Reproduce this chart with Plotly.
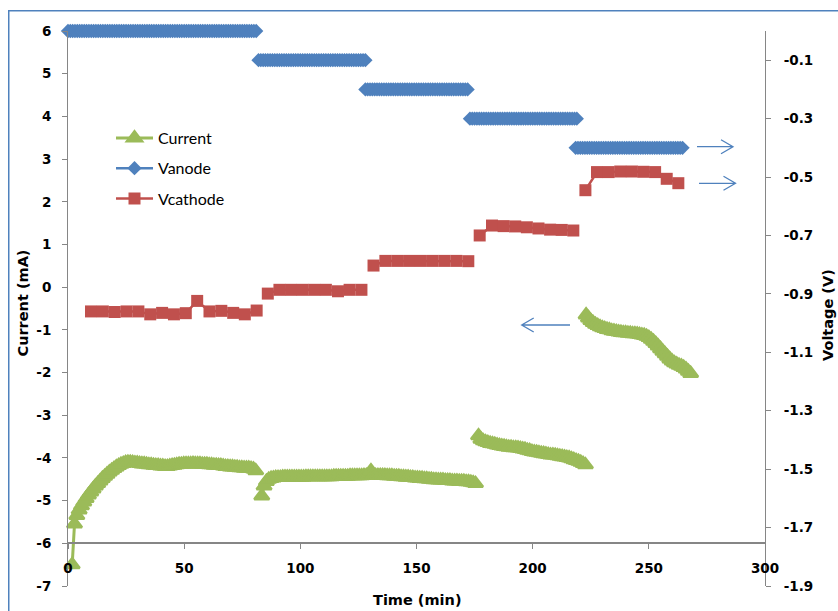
import plotly.graph_objects as go

# ---------------- data ----------------
# Current (mA), logged every 1 min, four segments (start time, values)
CURRENT_STEP = 1.0
CURRENT_SEG_START = [1.8, 83.4, 176.7, 223.0]
CURRENT_SEG1 = [-6.5, -5.55, -5.35, -5.22, -5.12, -5.03, -4.95, -4.87, -4.8, -4.73,
                -4.66, -4.6, -4.54, -4.48, -4.43, -4.38, -4.33, -4.29, -4.25, -4.21,
                -4.18, -4.15, -4.13, -4.11, -4.1, -4.1, -4.11, -4.12, -4.12, -4.13,
                -4.14, -4.14, -4.15, -4.16, -4.16, -4.17, -4.18, -4.18, -4.19, -4.19,
                -4.2, -4.2, -4.19, -4.18, -4.17, -4.16, -4.15, -4.15, -4.14, -4.14,
                -4.14, -4.14, -4.13, -4.14, -4.14, -4.14, -4.15, -4.15, -4.15, -4.16,
                -4.16, -4.17, -4.17, -4.18, -4.18, -4.19, -4.2, -4.2, -4.21, -4.21,
                -4.22, -4.22, -4.23, -4.23, -4.24, -4.24, -4.24, -4.25, -4.26, -4.3]
CURRENT_SEG2 = [-4.89, -4.66, -4.55, -4.5, -4.48, -4.47, -4.46,
                -4.46, -4.46, -4.45, -4.45, -4.45, -4.45, -4.45, -4.45, -4.45, -4.45,
                -4.45, -4.45, -4.44, -4.44, -4.44, -4.44, -4.44, -4.44, -4.44, -4.44,
                -4.44, -4.44, -4.44, -4.44, -4.43, -4.43, -4.43, -4.43, -4.43, -4.43,
                -4.43, -4.42, -4.42, -4.42, -4.42, -4.42, -4.42, -4.41, -4.41, -4.41,
                -4.3,
                -4.41, -4.41, -4.41, -4.41, -4.41, -4.41, -4.42, -4.42, -4.42,
                -4.43, -4.43, -4.43, -4.44, -4.44, -4.45, -4.45, -4.46, -4.46, -4.47,
                -4.47, -4.48, -4.48, -4.49, -4.49, -4.5, -4.5, -4.51, -4.51, -4.52,
                -4.52, -4.52, -4.53, -4.53, -4.53, -4.54, -4.54, -4.54, -4.55, -4.55,
                -4.55, -4.56, -4.56, -4.57, -4.58, -4.6]
CURRENT_SEG3 = [-3.48, -3.56, -3.6, -3.62, -3.64, -3.66, -3.67, -3.68, -3.7, -3.71,
                -3.72, -3.73, -3.74, -3.75, -3.75, -3.76, -3.76, -3.77, -3.78, -3.79,
                -3.8, -3.82, -3.83, -3.85, -3.86, -3.87, -3.88, -3.89, -3.9, -3.91,
                -3.92, -3.93, -3.93, -3.94, -3.95, -3.96, -3.97, -3.98, -3.99, -4.0,
                -4.02, -4.04, -4.06, -4.08, -4.1, -4.13, -4.16]
CURRENT_SEG4 = [-0.65, -0.72, -0.78, -0.83, -0.87, -0.9, -0.93, -0.95, -0.97, -0.99,
                -1.0, -1.02, -1.03, -1.04, -1.05, -1.06, -1.07, -1.07, -1.08, -1.08,
                -1.09, -1.09, -1.1, -1.11, -1.12, -1.13, -1.15, -1.18, -1.22, -1.27,
                -1.32, -1.38, -1.44, -1.5, -1.56, -1.62, -1.68, -1.73, -1.77, -1.8,
                -1.83, -1.85, -1.88, -1.92, -1.97, -2.02]

# Vanode (V): constant level per step, logged every 1 min
VANODE_STEP = 1.0
VANODE_LEVEL = [0.0, -0.1, -0.2, -0.3, -0.4]
VANODE_START = [0.0, 82.0, 128.0, 173.0, 218.5]
VANODE_END = [81.0, 127.5, 172.5, 219.0, 264.0]

# Vcathode (V)
VCATH_T = [
    [9.9, 15.0, 20.1, 25.2, 30.3, 35.4, 40.5, 45.6, 50.7, 55.6, 60.9, 66.0, 71.1, 76.1, 81.2],
    [86.0, 91.0, 96.0, 101.0, 106.0, 111.0, 116.2, 121.2, 126.3],
    [131.5, 136.6, 141.7, 146.8, 151.9, 157.0, 162.1, 167.2, 172.3],
    [177.2, 182.5, 187.5, 192.5, 197.5, 202.5, 207.5, 212.5, 217.5],
    [222.7, 227.7, 232.7, 237.7, 242.7, 247.7, 252.7, 257.7, 262.7],
]
VCATH_V = [
    [-0.96, -0.96, -0.962, -0.96, -0.96, -0.97, -0.965, -0.97, -0.966, -0.924, -0.96, -0.958, -0.965, -0.97, -0.957],
    [-0.899, -0.886, -0.886, -0.886, -0.886, -0.886, -0.891, -0.886, -0.886],
    [-0.803, -0.787, -0.787, -0.787, -0.787, -0.787, -0.787, -0.787, -0.788],
    [-0.7, -0.666, -0.668, -0.669, -0.672, -0.676, -0.68, -0.681, -0.683],
    [-0.545, -0.483, -0.483, -0.481, -0.481, -0.482, -0.483, -0.506, -0.521],
]

X_TICKS = [0, 50, 100, 150, 200, 250, 300]
LEFT_TICKS = [-7, -6, -5, -4, -3, -2, -1, 0, 1, 2, 3, 4, 5, 6]
RIGHT_TICKS = [-1.9, -1.7, -1.5, -1.3, -1.1, -0.9, -0.7, -0.5, -0.3, -0.1]

# ---------------- build series ----------------
def join_segments(ts, vs):
    X, Y = [], []
    for t, v in zip(ts, vs):
        if X:
            X.append(None); Y.append(None)
        X.extend(t); Y.extend(v)
    return X, Y

cur_t, cur_v = [], []
for start, seg in zip(CURRENT_SEG_START, [CURRENT_SEG1, CURRENT_SEG2, CURRENT_SEG3, CURRENT_SEG4]):
    cur_t.append([start + i * CURRENT_STEP for i in range(len(seg))])
    cur_v.append(seg)
CX, CY = join_segments(cur_t, cur_v)

an_t, an_v = [], []
for lvl, s, e in zip(VANODE_LEVEL, VANODE_START, VANODE_END):
    n = int(round((e - s) / VANODE_STEP)) + 1
    an_t.append([s + i * VANODE_STEP for i in range(n)])
    an_v.append([lvl] * n)
AX, AY = join_segments(an_t, an_v)

KX, KY = join_segments(VCATH_T, VCATH_V)

GREEN = "#9BBB59"
BLUE = "#4F81BD"
RED = "#C0504D"
AXIS_GRAY = "#868686"

fig = go.Figure()
fig.add_trace(go.Scatter(
    x=CX, y=CY, name="Current", mode="lines+markers", yaxis="y",
    line=dict(color=GREEN, width=3),
    marker=dict(symbol="triangle-up", size=13, color=GREEN, line=dict(color=GREEN, width=2.5)),
    legendgroup="c", connectgaps=False, cliponaxis=False,
))
fig.add_trace(go.Scatter(
    x=AX, y=AY, name="Vanode", mode="lines+markers", yaxis="y2",
    line=dict(color=BLUE, width=2.5),
    marker=dict(symbol="diamond", size=11, color=BLUE),
    legendgroup="a", connectgaps=False, cliponaxis=False,
))
fig.add_trace(go.Scatter(
    x=KX, y=KY, name="Vcathode", mode="lines+markers", yaxis="y2",
    line=dict(color=RED, width=2.5),
    marker=dict(symbol="square", size=12, color=RED),
    legendgroup="k", connectgaps=False, cliponaxis=False,
))

# ---------------- layout ----------------
W, H = 838, 611
ML, MR, MT, MB = 68, 73, 31, 25
PW, PH = W - ML - MR, H - MT - MB

def px_x(p):
    return (p - ML) / PW

def px_y(p):
    return (H - MB - p) / PH

tick_font = dict(family="DejaVu Sans", size=13.5, color="#000000", weight="bold")
title_font = dict(family="DejaVu Sans", size=14.5, color="#000000", weight="bold")

fig.update_layout(
    width=W, height=H,
    margin=dict(l=ML, r=MR, t=MT, b=MB, autoexpand=False),
    paper_bgcolor="white", plot_bgcolor="white",
    showlegend=True,
    legend=dict(
        x=px_x(111), y=px_y(121), xanchor="left", yanchor="top",
        font=dict(family="Lato", size=16, color="#000000"),
        bgcolor="rgba(0,0,0,0)", borderwidth=0,
        tracegroupgap=6.5, itemwidth=37, traceorder="grouped",
    ),
    xaxis=dict(
        range=[0, 300], tickvals=X_TICKS, ticktext=[str(v) for v in X_TICKS],
        showgrid=False, zeroline=False, showline=True, linecolor=AXIS_GRAY, linewidth=1.5,
        ticks="outside", ticklen=5, tickcolor=AXIS_GRAY, tickwidth=1,
        tickfont=tick_font, anchor="free", position=1 / 13, ticklabelstandoff=8,
    ),
    yaxis=dict(
        range=[-7, 6], tickvals=LEFT_TICKS, ticktext=[str(v) for v in LEFT_TICKS],
        showgrid=False, zeroline=False, showline=True, linecolor=AXIS_GRAY, linewidth=1,
        ticks="outside", ticklen=5, tickcolor=AXIS_GRAY, tickfont=tick_font,
        ticklabelstandoff=8,
    ),
    yaxis2=dict(
        range=[-1.9, 0.0], tickvals=RIGHT_TICKS, ticktext=[f"{v:.1f}" for v in RIGHT_TICKS],
        overlaying="y", side="right", anchor="x",
        showgrid=False, zeroline=False, showline=True, linecolor=AXIS_GRAY, linewidth=1,
        ticks="outside", ticklen=5, tickcolor=AXIS_GRAY, tickfont=tick_font,
        ticklabelstandoff=10,
    ),
)

# axis titles
fig.add_annotation(text="Time (min)", xref="paper", yref="paper", x=px_x(417), y=px_y(600),
                   showarrow=False, font=title_font, xanchor="center", yanchor="middle")
fig.add_annotation(text="Current (mA)", xref="paper", yref="paper", x=px_x(22.5), y=px_y(303),
                   showarrow=False, font=title_font, textangle=-90, xanchor="center", yanchor="middle")
fig.add_annotation(text="Voltage (V)", xref="paper", yref="paper", x=px_x(828), y=px_y(315),
                   showarrow=False, font=title_font, textangle=-90, xanchor="center", yanchor="middle")

# pointer arrows (open chevron heads)
def arrow(x0, x1, y, head=12, half=7):
    d = 1 if x1 > x0 else -1
    path = (f"M{px_x(x0)},{px_y(y)} L{px_x(x1)},{px_y(y)} "
            f"M{px_x(x1 - d*head)},{px_y(y - half)} L{px_x(x1)},{px_y(y)} L{px_x(x1 - d*head)},{px_y(y + half)}")
    fig.add_shape(type="path", path=path, xref="paper", yref="paper",
                  line=dict(color=BLUE, width=1.3))

arrow(697, 733, 146.7)
arrow(699, 735.5, 183.3)
arrow(570, 521.7, 325)

# chart border (left and top edges fall inside the picture)
fig.add_shape(type="rect", xref="paper", yref="paper",
              x0=px_x(8.75), x1=px_x(850), y0=px_y(620), y1=px_y(10.75),
              line=dict(color=BLUE, width=1.5), layer="below")

fig.write_html(
    "out.html",
    config={"displayModeBar": False},
    post_script="document.body.style.margin='0';document.body.style.overflow='hidden';",
)
